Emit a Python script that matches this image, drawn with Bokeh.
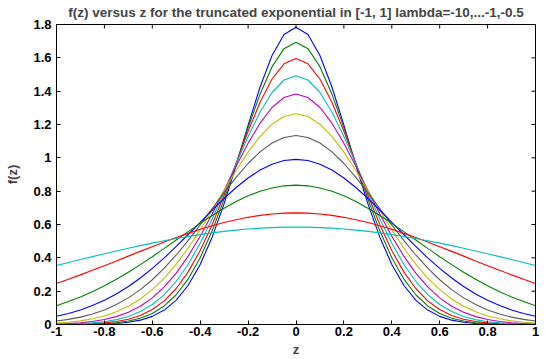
import math
from bokeh.plotting import figure
from bokeh.models import Range1d, FixedTicker
from bokeh.embed import file_html
from bokeh.resources import INLINE

# z sample points (right half, curves are symmetric about z=0)
z_half = [0.0, 0.05, 0.1, 0.15, 0.2, 0.25, 0.3, 0.35, 0.4, 0.45, 0.5,
          0.55, 0.6, 0.65, 0.7, 0.75, 0.8, 0.85, 0.9, 0.95, 1.0]

lambdas = [-10, -9, -8, -7, -6, -5, -4, -3, -2, -1, -0.5]

f_lam_m10 = [1.784, 1.740, 1.614, 1.425, 1.196, 0.955, 0.725, 0.524, 0.360, 0.2355, 0.1465,
             0.0866, 0.0488, 0.0261, 0.0133, 0.0064, 0.0030, 0.0013, 0.0005, 0.0002, 0.0001]
f_lam_m9 = [1.693, 1.655, 1.547, 1.382, 1.181, 0.964, 0.753, 0.562, 0.401, 0.2736, 0.1784,
            0.1112, 0.0663, 0.0378, 0.0206, 0.0107, 0.0053, 0.0025, 0.0012, 0.0005, 0.0002]
f_lam_m8 = [1.596, 1.564, 1.473, 1.333, 1.159, 0.968, 0.777, 0.599, 0.444, 0.3158, 0.2160,
            0.1419, 0.0896, 0.0543, 0.0317, 0.0177, 0.0095, 0.0049, 0.0024, 0.0012, 0.0005]
f_lam_m7 = [1.493, 1.467, 1.392, 1.275, 1.128, 0.964, 0.795, 0.633, 0.487, 0.3618, 0.2594,
            0.1796, 0.1201, 0.0775, 0.0483, 0.0291, 0.0169, 0.0095, 0.0051, 0.0027, 0.0014]
f_lam_m6 = [1.383, 1.362, 1.302, 1.208, 1.088, 0.950, 0.806, 0.663, 0.529, 0.4103, 0.3085,
            0.2252, 0.1595, 0.1096, 0.0731, 0.0473, 0.0297, 0.0181, 0.0107, 0.0062, 0.0034]
f_lam_m5 = [1.264, 1.248, 1.202, 1.129, 1.034, 0.924, 0.806, 0.685, 0.568, 0.4590, 0.3620,
            0.2784, 0.2089, 0.1528, 0.1090, 0.0759, 0.0515, 0.0341, 0.0220, 0.0139, 0.0085]
f_lam_m4 = [1.134, 1.122, 1.089, 1.036, 0.966, 0.883, 0.791, 0.695, 0.598, 0.5043, 0.4171,
            0.3381, 0.2686, 0.2092, 0.1597, 0.1195, 0.0876, 0.0630, 0.0444, 0.0307, 0.0208]
f_lam_m3 = [0.991, 0.984, 0.962, 0.927, 0.879, 0.822, 0.757, 0.686, 0.613, 0.5400, 0.4683,
            0.4000, 0.3367, 0.2791, 0.2280, 0.1834, 0.1453, 0.1135, 0.0873, 0.0661, 0.0494]
f_lam_m2 = [0.836, 0.832, 0.819, 0.799, 0.772, 0.738, 0.698, 0.654, 0.607, 0.5575, 0.5070,
            0.4565, 0.4069, 0.3591, 0.3137, 0.2714, 0.2324, 0.1971, 0.1654, 0.1375, 0.1131]
f_lam_m1 = [0.670, 0.668, 0.663, 0.655, 0.643, 0.629, 0.612, 0.592, 0.571, 0.5468, 0.5214,
            0.4947, 0.4671, 0.4388, 0.4102, 0.3815, 0.3530, 0.3251, 0.2978, 0.2715, 0.2463]
f_lam_m05 = [0.584, 0.584, 0.581, 0.578, 0.573, 0.566, 0.559, 0.550, 0.539, 0.5281, 0.5157,
             0.5023, 0.4881, 0.4731, 0.4574, 0.4411, 0.4243, 0.4072, 0.3898, 0.3721, 0.3544]

series = [f_lam_m10, f_lam_m9, f_lam_m8, f_lam_m7, f_lam_m6, f_lam_m5,
          f_lam_m4, f_lam_m3, f_lam_m2, f_lam_m1, f_lam_m05]

colors = ["#0000FF", "#008000", "#FF0000", "#00BFBF", "#BF00BF", "#BFBF00", "#5A5A5A",
          "#0000FF", "#008000", "#FF0000", "#00BFBF"]

xticks = [-1, -0.8, -0.6, -0.4, -0.2, 0, 0.2, 0.4, 0.6, 0.8, 1]
xtick_labels = ["-1", "-0.8", "-0.6", "-0.4", "-0.2", "0", "0.2", "0.4", "0.6", "0.8", "1"]
yticks = [0, 0.2, 0.4, 0.6, 0.8, 1.0, 1.2, 1.4, 1.6, 1.8]
ytick_labels = ["0", "0.2", "0.4", "0.6", "0.8", "1", "1.2", "1.4", "1.6", "1.8"]

x_min, x_max = -1, 1
y_min, y_max = 0, 1.8

title_text = "f(z) versus z for the truncated exponential in [-1, 1] lambda=-10,...-1,-0.5"

FONT = "Liberation Sans"

p = figure(width=550, height=359, output_backend="svg", toolbar_location=None,
           x_range=Range1d(x_min, x_max), y_range=Range1d(y_min, y_max),
           min_border_left=56, min_border_right=15, min_border_top=24, min_border_bottom=35)
p.title.text = title_text
p.title.align = "center"
p.title.vertical_align = "top"
p.title.text_font = FONT
p.title.text_font_style = "bold"
p.title.text_font_size = "13.5px"
p.title.offset = 0
p.title.standoff = 5

p.xgrid.visible = False
p.ygrid.visible = False
p.outline_line_color = "black"
p.outline_line_width = 1
p.background_fill_color = "white"
p.border_fill_color = "white"

for lam, ys, c in zip(lambdas, series, colors):
    zz = [-v for v in reversed(z_half[1:])] + z_half
    ff = list(reversed(ys[1:])) + ys
    p.line(zz, ff, line_color=c, line_width=1.1)

# inward tick marks on the top and right edges of the box
p.ray(x=xticks, y=[y_max] * len(xticks), length=4, length_units="screen",
      angle=-math.pi / 2, line_color="black", line_width=1)
p.ray(x=[x_max] * len(yticks), y=yticks, length=4, length_units="screen",
      angle=math.pi, line_color="black", line_width=1)

def style_axis(ax, ticks, labels):
    ax.ticker = FixedTicker(ticks=ticks)
    ax.major_label_overrides = {t: l for t, l in zip(ticks, labels)}
    ax.major_tick_in = 4
    ax.major_tick_out = 0
    ax.minor_tick_in = 0
    ax.minor_tick_out = 0
    ax.axis_line_color = "black"
    ax.major_tick_line_color = "black"
    ax.major_label_text_font = FONT
    ax.major_label_text_font_style = "bold"
    ax.major_label_text_font_size = "13px"
    ax.major_label_text_color = "black"

xa = p.xaxis[0]
style_axis(xa, xticks, xtick_labels)
xa.major_label_standoff = 2
xa.axis_label = "z"
xa.axis_label_text_font = FONT
xa.axis_label_text_font_style = "bold"
xa.axis_label_text_font_size = "13px"
xa.axis_label_standoff = 3

ya = p.yaxis[0]
style_axis(ya, yticks, ytick_labels)
ya.major_label_standoff = 5
ya.axis_label = "f(z)"
ya.axis_label_text_font = FONT
ya.axis_label_text_font_style = "bold"
ya.axis_label_text_font_size = "13px"
ya.axis_label_standoff = 10

open("out.html", "w").write(file_html(p, INLINE))
